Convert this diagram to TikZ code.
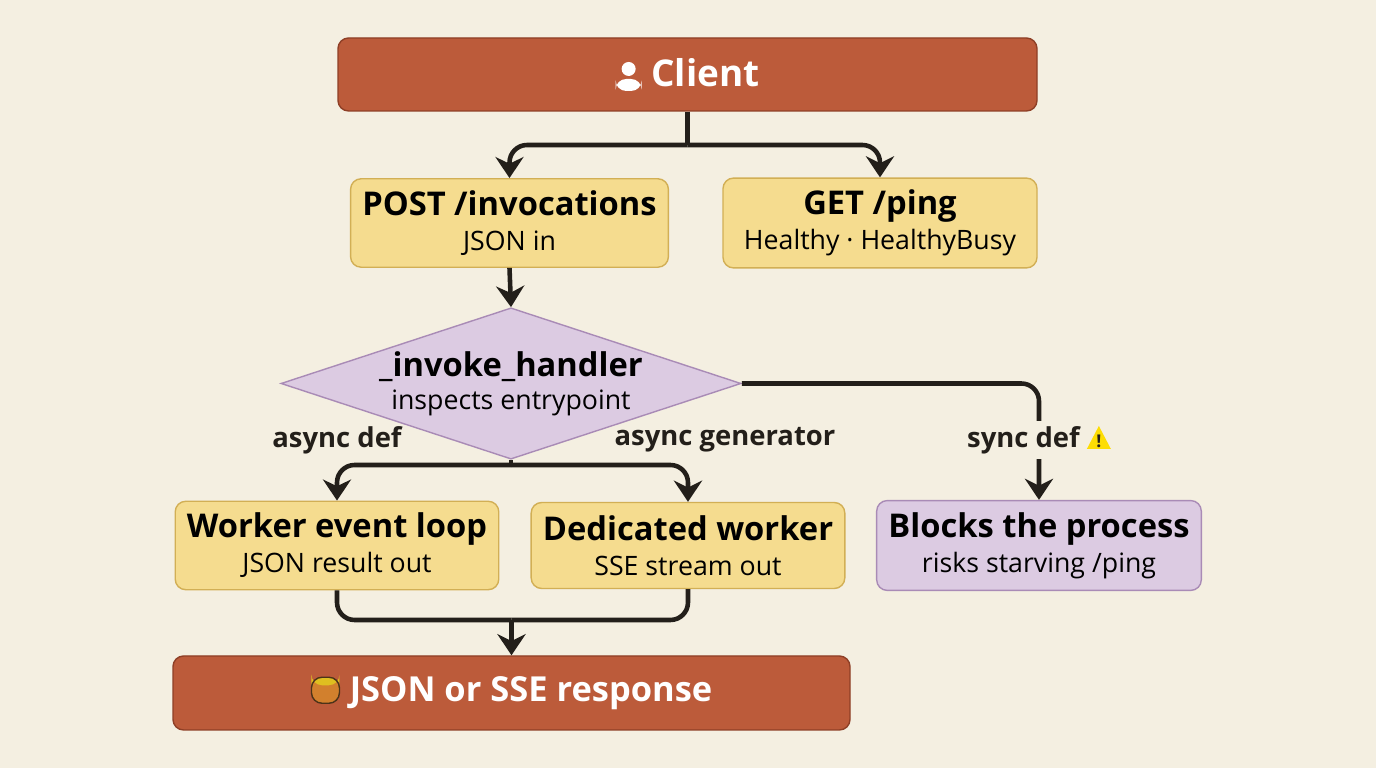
\documentclass[tikz,border=0pt]{standalone}
\usepackage{fontspec}
\setmainfont{Open Sans}
\usetikzlibrary{arrows.meta, shapes.geometric, positioning}

\definecolor{paper}{HTML}{F4EFE1}
\definecolor{rust}{HTML}{BC5B3A}
\definecolor{rustline}{HTML}{8E3F26}
\definecolor{sand}{HTML}{F5DC8F}
\definecolor{sandline}{HTML}{D2AF55}
\definecolor{lilac}{HTML}{DCCBE2}
\definecolor{lilacline}{HTML}{A98BB6}
\definecolor{ink}{HTML}{231F1A}

\tikzset{
	endpoint/.style = {draw = rustline, fill = rust, rounded corners = 3pt, text = white,
		minimum height = 0.73 cm, font = \fontsize{10.5}{12}\selectfont\bfseries},
	stage/.style = {draw = sandline, fill = sand, rounded corners = 3pt, align = center,
		minimum width = 3.02 cm, minimum height = 0.86 cm, font = \fontsize{7.6}{10}\selectfont},
	warnstage/.style = {stage, draw = lilacline, fill = lilac},
	decide/.style = {diamond, aspect = 3.04, draw = lilacline, fill = lilac, align = center,
		inner sep = 0pt, minimum width = 3.86 cm, minimum height = 1.27 cm,
		font = \fontsize{7.6}{9.5}\selectfont},
	flow/.style = {draw = ink, line width = 1.3pt, rounded corners = 5pt,
		-{Stealth[length = 6pt, width = 8pt]}},
	trunk/.style = {draw = ink, line width = 1.3pt, rounded corners = 5pt},
	tag/.style = {font = \fontsize{7.8}{9}\selectfont\bfseries, text = ink, fill = paper, inner sep = 1.5pt}
}

\begin{document}
\begin{tikzpicture}
\fill [paper] (0, 0) rectangle (13.76, 7.68);
\useasboundingbox (0, 0) rectangle (13.76, 7.68);

% Endpoints

\node [endpoint, minimum width = 6.99 cm] (client) at (6.875, 6.935) {%
	\tikz [baseline = -0.5ex] {\fill [white] (0, 0.07) circle (0.07); \fill [white] (-0.13, -0.15) rectangle (0.13, -0.03) [rounded corners = 1pt];}\ Client};

% Routes

\node [stage, minimum width = 3.13 cm] (post) at (5.095, 5.45) {\textbf{\fontsize{9.3}{11}\selectfont POST /invocations}\\JSON in};
\node [stage, minimum width = 3.14 cm] (ping) at (8.80, 5.45) {\textbf{\fontsize{9.3}{11}\selectfont GET /ping}\\Healthy · HealthyBusy};

% Dispatch

\node [decide] (handler) at (5.11, 3.845) {\textbf{\fontsize{9.3}{11}\selectfont \_invoke\_handler}\\inspects entrypoint};

% Handlers

\node [stage] (worker) at (3.37, 2.225) {\textbf{\fontsize{9.3}{11}\selectfont Worker event loop}\\JSON result out};
\node [stage] (dedicated) at (6.88, 2.225) {\textbf{\fontsize{9.3}{11}\selectfont Dedicated worker}\\SSE stream out};
\node [warnstage] (blocks) at (10.39, 2.225) {\textbf{\fontsize{9.3}{11}\selectfont Blocks the process}\\risks starving /ping};

% Response

\node [endpoint, minimum width = 6.77 cm, minimum height = 0.74 cm] (response) at (5.115, 0.75) {%
	\tikz [baseline = -0.6ex] {\fill [brown!70!orange] (-0.14, -0.14) rectangle (0.14, 0.12); \fill [brown!50!yellow] (-0.14, 0.04) rectangle (0.14, 0.12); \draw [brown!40!black, line width = 0.4pt] (-0.14, -0.14) rectangle (0.14, 0.12);}\ \fontsize{9.8}{12}\selectfont JSON or SSE response};

% Connectors

\coordinate (split) at (6.875, 6.23);
\draw [trunk] (client.south) -- (split);
\draw [flow] (split) -| (post.north);
\draw [flow] (split) -| (ping.north);
\draw [flow] (post.south) -- (handler.north);

\coordinate (fork) at (5.11, 3.03);
\draw [trunk] (handler.south) -- (fork);
\draw [flow] (fork) -| (worker.north);
\draw [flow] (fork) -| (dedicated.north);
\draw [flow] (handler.east) -| (blocks.north);

\coordinate (merge) at (5.115, 1.48);
\draw [trunk] (worker.south) |- (merge);
\draw [trunk] (dedicated.south) |- (merge);
\draw [flow] (merge) -- (response.north);

% Labels

\node [tag, fill = none] (adef) at (3.37, 3.28) {async def};
\node [tag, fill = none] (agen) at (7.25, 3.28) {async generator};
\node [tag] (sdef) at (10.39, 3.28) {sync def \tikz [baseline = -0.1ex] {\fill [yellow!80!orange] (-0.12, -0.03) -- (0.12, -0.03) -- (0, 0.2) -- cycle; \node [font = \fontsize{5}{5}\selectfont\bfseries, inner sep = 0pt] at (0, 0.05) {!};}};

\end{tikzpicture}
\end{document}
